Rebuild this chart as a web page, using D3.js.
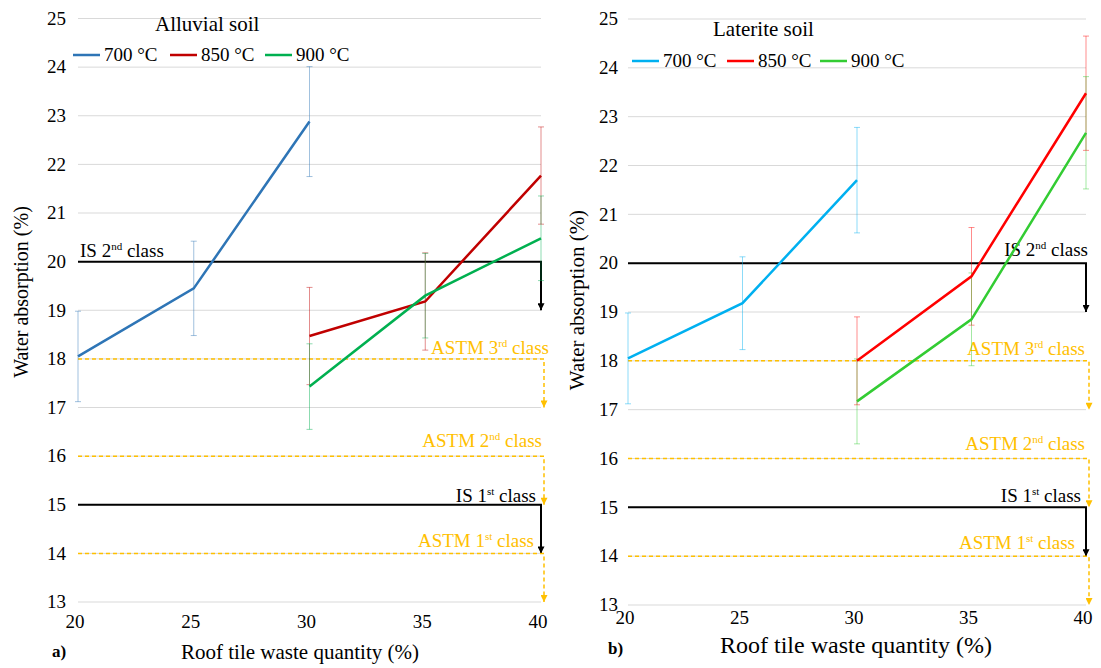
<!DOCTYPE html>
<html>
<head>
<meta charset="utf-8">
<script src="https://cdn.jsdelivr.net/npm/d3@7"></script>
<style>
  body { margin: 0; background: #fff; }
</style>
</head>
<body>
<script>
// data
var quantities = [20, 25, 30, 35, 40];
var yTicks = [13, 14, 15, 16, 17, 18, 19, 20, 21, 22, 23, 24, 25];
var series = ["700 °C", "850 °C", "900 °C"];

// alluvial soil
var alluvial700x = [20, 25, 30];
var alluvial700 = [18.05, 19.45, 22.88];
var alluvial700err = [0.93, 0.97, 1.13];
var alluvial850x = [30, 35, 40];
var alluvial850 = [18.47, 19.18, 21.77];
var alluvial850err = [1.0, 1.0, 1.0];
var alluvial900x = [30, 35, 40];
var alluvial900 = [17.43, 19.3, 20.48];
var alluvial900err = [0.88, 0.87, 0.87];

// laterite soil
var laterite700x = [20, 25, 30];
var laterite700 = [18.05, 19.18, 21.7];
var laterite700err = [0.93, 0.95, 1.08];
var laterite850x = [30, 35, 40];
var laterite850 = [18.0, 19.73, 23.48];
var laterite850err = [0.9, 1.0, 1.17];
var laterite900x = [30, 35, 40];
var laterite900 = [17.17, 18.85, 22.67];
var laterite900err = [0.87, 0.95, 1.15];

// limits (IS / ASTM classes)
var limitNames = ["IS 2", "ASTM 3", "ASTM 2", "IS 1", "ASTM 1"];
var limitSup = ["nd", "rd", "nd", "st", "st"];
var limitValues = [20, 18, 16, 15, 14];

function zip(xs, ys, es) {
    return xs.map(function (x, i) { return { x: x, y: ys[i], e: es[i] }; });
}

var svg = d3.select("body").append("svg")
    .attr("width", 1101)
    .attr("height", 668)
    .attr("font-family", "'Liberation Serif', 'Times New Roman', 'DejaVu Serif', serif");

var defs = svg.append("defs");
function marker(id, color) {
    defs.append("marker")
        .attr("id", id)
        .attr("viewBox", "0 0 10 10")
        .attr("refX", 10).attr("refY", 5)
        .attr("markerWidth", 8).attr("markerHeight", 7)
        .attr("markerUnits", "userSpaceOnUse")
        .attr("orient", "auto")
        .append("path")
        .attr("d", "M0,0 L10,5 L0,10 Z")
        .attr("fill", color);
}
marker("arrBlack", "#000");
marker("arrOrange", "#FFC000");

function drawPanel(p) {
    var x = d3.scaleLinear().domain([20, 40]).range(p.xRange);
    var y = d3.scaleLinear().domain([13, 25]).range(p.yRange);
    var g = svg.append("g");

    // grid
    g.selectAll(".grid").data(yTicks).enter().append("line")
        .attr("x1", x(20)).attr("x2", x(40))
        .attr("y1", function (d) { return y(d); })
        .attr("y2", function (d) { return y(d); })
        .attr("stroke", "#d9d9d9").attr("stroke-width", 1);

    // y tick labels
    g.selectAll(".ytl").data(yTicks).enter().append("text")
        .attr("x", p.yLabelX)
        .attr("y", function (d) { return y(d); })
        .attr("dy", "0.33em")
        .attr("text-anchor", "end")
        .attr("font-size", 19)
        .text(function (d) { return d; });

    // x tick labels
    g.selectAll(".xtl").data(quantities).enter().append("text")
        .attr("x", function (d) { return x(d) - 3; })
        .attr("y", p.xLabelY)
        .attr("text-anchor", "middle")
        .attr("font-size", 19)
        .text(function (d) { return d; });

    // limit lines
    limitValues.forEach(function (v, i) {
        var isIS = limitNames[i].indexOf("IS") === 0;
        var col = isIS ? "#000" : "#FFC000";
        var ax = isIS ? x(40) : x(40) + 3;
        g.append("path")
            .attr("d", "M" + x(20) + "," + y(v) + "H" + ax + "V" + y(v - 1))
            .attr("fill", "none")
            .attr("stroke", col)
            .attr("stroke-width", isIS ? 2 : 1.5)
            .attr("stroke-dasharray", isIS ? null : "4,3")
            .attr("marker-end", isIS ? "url(#arrBlack)" : "url(#arrOrange)");
        var lp = p.limitLabels[i];
        var t = g.append("text")
            .attr("x", lp[0]).attr("y", lp[1])
            .attr("text-anchor", lp[2])
            .attr("font-size", 19)
            .attr("fill", isIS ? "#000" : "#FFC000")
            .text(limitNames[i]);
        t.append("tspan").attr("dy", -7).attr("font-size", 11).text(limitSup[i]);
        t.append("tspan").attr("dy", 7).text(" class");
    });

    // series lines with error bars
    var line = d3.line().x(function (d) { return x(d.x); }).y(function (d) { return y(d.y); });
    p.data.forEach(function (s, k) {
        var eb = g.append("g").attr("stroke", p.colors[k]).attr("stroke-opacity", 0.45).attr("stroke-width", 1);
        s.forEach(function (d) {
            eb.append("line").attr("x1", x(d.x)).attr("x2", x(d.x))
                .attr("y1", y(d.y - d.e)).attr("y2", y(d.y + d.e));
            [d.y - d.e, d.y + d.e].forEach(function (v) {
                eb.append("line").attr("x1", x(d.x) - 3).attr("x2", x(d.x) + 3)
                    .attr("y1", y(v)).attr("y2", y(v));
            });
        });
    });
    p.data.forEach(function (s, k) {
        g.append("path").datum(s)
            .attr("d", line)
            .attr("fill", "none")
            .attr("stroke", p.colors[k])
            .attr("stroke-width", 2.5);
    });

    // title + legend
    g.append("text").attr("x", p.title[0]).attr("y", p.title[1])
        .attr("font-size", 21).text(p.titleText);
    series.forEach(function (s, k) {
        var lx = p.legendX[k];
        g.append("line").attr("x1", lx).attr("x2", lx + 27)
            .attr("y1", p.legendY).attr("y2", p.legendY)
            .attr("stroke", p.colors[k]).attr("stroke-width", 2.5);
        g.append("text").attr("x", lx + 31).attr("y", p.legendY + 6)
            .attr("font-size", 19).text(s);
    });

    // axis titles
    g.append("text")
        .attr("transform", "translate(" + p.yTitle[0] + "," + p.yTitle[1] + ") rotate(-90)")
        .attr("text-anchor", "middle")
        .attr("font-size", p.yTitleSize)
        .text("Water absorption (%)");
    g.append("text").attr("x", p.xTitle[0]).attr("y", p.xTitle[1])
        .attr("text-anchor", "middle")
        .attr("font-size", p.xTitleSize)
        .text("Roof tile waste quantity (%)");
    g.append("text").attr("x", p.tag[0]).attr("y", p.tag[1])
        .attr("font-size", 17).attr("font-weight", "bold")
        .text(p.tagText);
}

drawPanel({
    xRange: [78, 541], yRange: [602, 18.5],
    yLabelX: 66, xLabelY: 628,
    colors: ["#2E75B6", "#C00000", "#00B050"],
    data: [zip(alluvial700x, alluvial700, alluvial700err),
           zip(alluvial850x, alluvial850, alluvial850err),
           zip(alluvial900x, alluvial900, alluvial900err)],
    limitLabels: [[80, 257, "start"], [549, 354, "end"], [542, 447, "end"],
                  [536, 502, "end"], [534, 547, "end"]],
    title: [155, 31], titleText: "Alluvial soil",
    legendX: [73, 170, 265], legendY: 55,
    yTitle: [28, 292], yTitleSize: 20,
    xTitle: [300, 659], xTitleSize: 21,
    tag: [52, 657], tagText: "a)"
});

drawPanel({
    xRange: [628, 1086], yRange: [605, 19],
    yLabelX: 618, xLabelY: 624,
    colors: ["#00B0F0", "#FF0000", "#33CC33"],
    data: [zip(laterite700x, laterite700, laterite700err),
           zip(laterite850x, laterite850, laterite850err),
           zip(laterite900x, laterite900, laterite900err)],
    limitLabels: [[1088, 256, "end"], [1085, 355, "end"], [1085, 450, "end"],
                  [1081, 502, "end"], [1075, 549, "end"]],
    title: [713, 36], titleText: "Laterite soil",
    legendX: [632, 727, 820], legendY: 61,
    yTitle: [584, 300], yTitleSize: 21,
    xTitle: [856, 653], xTitleSize: 24,
    tag: [608, 654], tagText: "b)"
});
</script>
</body>
</html>
